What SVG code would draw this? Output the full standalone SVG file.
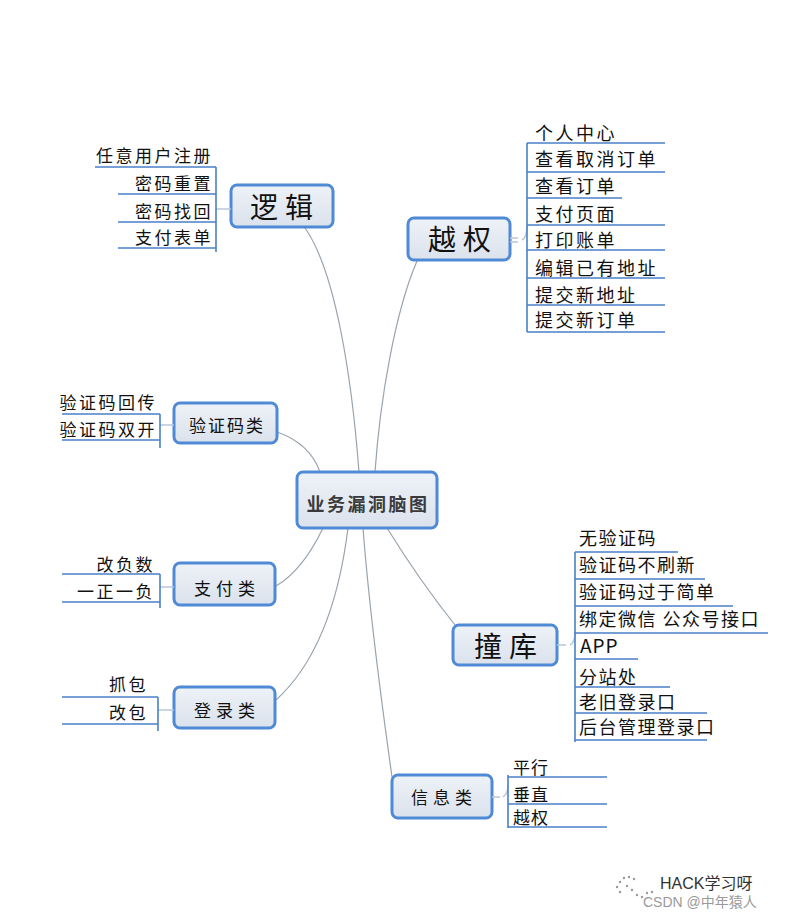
<svg xmlns="http://www.w3.org/2000/svg" width="796" height="920" viewBox="0 0 796 920">
<defs>
<linearGradient id="g" x1="0" y1="0" x2="0" y2="1">
<stop offset="0" stop-color="#eef2f8"/>
<stop offset="1" stop-color="#dbe2ec"/>
</linearGradient>
<style>
.box{fill:url(#g);stroke:#4f8ad6;stroke-width:3}
.t{font-family:"Noto Sans CJK SC","Noto Sans",sans-serif;fill:#111111}
.big{font-size:28px;letter-spacing:7px;text-anchor:middle}
.mid{font-size:17px;text-anchor:middle}
.leaf{font-size:17px;letter-spacing:2.5px}
.r{text-anchor:end}
.ul{stroke:#4a80c8;stroke-width:1.6;fill:none}
.con{stroke:#9aa3ad;stroke-width:1.2;fill:none}
.stub{stroke:#b8c6d8;stroke-width:1.5;fill:none}
</style>
</defs>
<rect width="796" height="920" fill="#ffffff"/>

<g id="connectors">
<path class="con" d="M305,228 C336,272 352,380 359,472"/>
<path class="con" d="M417,261 C395,312 380,400 375,472"/>
<path class="con" d="M277,432 C300,440 314,455 320,472"/>
<path class="con" d="M323,528 C310,555 295,575 276,586"/>
<path class="con" d="M348,528 C340,592 320,660 276,700"/>
<path class="con" d="M363,528 C370,620 384,720 392,777"/>
<path class="con" d="M387,528 C410,565 435,600 455,625"/>
</g>

<g id="center">
<rect class="box" x="297" y="472" width="140" height="56" rx="6"/>
<text class="t" x="368" y="511" style="font-size:18px;letter-spacing:2.5px;text-anchor:middle;fill:#3a3a3a;font-weight:bold">业务漏洞脑图</text>
</g>

<g id="luoji">
<rect class="box" x="231" y="185" width="102" height="42" rx="6"/>
<text class="t big" x="285" y="218">逻辑</text>
<path class="stub" d="M216,209 H231"/>
<path class="ul" d="M216,167 V252 M95,167 H216 M118,194 H216 M118,222 H216 M118,248 H216"/>
<text class="t leaf r" x="213" y="162">任意用户注册</text>
<text class="t leaf r" x="213" y="190">密码重置</text>
<text class="t leaf r" x="213" y="218">密码找回</text>
<text class="t leaf r" x="213" y="244">支付表单</text>
</g>

<g id="yuequan">
<rect class="box" x="408" y="218" width="102" height="42" rx="6"/>
<text class="t big" x="463" y="250">越权</text>
<path class="stub" d="M510,238 H518 M510,242 H518 M522,240 C526,238 527,232 527,226"/>
<path class="ul" d="M527,143 V332 M527,143 H665 M527,172 H665 M527,198 H622 M527,225 H665 M527,250 H665 M527,278 H665 M527,305 H665 M527,332 H665"/>
<text class="t leaf" x="535" y="140" style="font-size:18px">个人中心</text>
<text class="t leaf" x="535" y="166" style="font-size:18px">查看取消订单</text>
<text class="t leaf" x="535" y="193" style="font-size:18px">查看订单</text>
<text class="t leaf" x="535" y="221" style="font-size:18px">支付页面</text>
<text class="t leaf" x="535" y="247" style="font-size:18px">打印账单</text>
<text class="t leaf" x="535" y="275" style="font-size:18px">编辑已有地址</text>
<text class="t leaf" x="535" y="302" style="font-size:18px">提交新地址</text>
<text class="t leaf" x="535" y="327" style="font-size:18px">提交新订单</text>
</g>

<g id="yanzhengma">
<rect class="box" x="174" y="403" width="103" height="40" rx="6"/>
<text class="t mid" x="227" y="432" style="letter-spacing:2px">验证码类</text>
<path class="stub" d="M160,425 H174"/>
<path class="ul" d="M160,414 V448 M62,414 H160 M62,440 H160"/>
<text class="t leaf r" x="157" y="409">验证码回传</text>
<text class="t leaf r" x="157" y="436">验证码双开</text>
</g>

<g id="zhifu">
<rect class="box" x="174" y="563" width="101" height="42" rx="6"/>
<text class="t mid" x="227" y="595" style="letter-spacing:5px">支付类</text>
<path class="stub" d="M160,587 H174"/>
<path class="ul" d="M160,574 V608 M62,574 H160 M62,602 H160"/>
<text class="t leaf r" x="155" y="571">改负数</text>
<text class="t leaf r" x="155" y="598">一正一负</text>
</g>

<g id="denglu">
<rect class="box" x="174" y="687" width="101" height="41" rx="6"/>
<text class="t mid" x="227" y="717" style="letter-spacing:5px">登录类</text>
<path class="stub" d="M158,710 H174"/>
<path class="ul" d="M158,697 V731 M62,697 H158 M62,724 H158"/>
<text class="t leaf r" x="148" y="691">抓包</text>
<text class="t leaf r" x="148" y="719">改包</text>
</g>

<g id="zhuangku">
<rect class="box" x="453" y="625" width="104" height="40" rx="6"/>
<text class="t big" x="509" y="657">撞库</text>
<path class="stub" d="M557,645 H566 M570,645 C574,643 575,637 575,632"/>
<path class="ul" d="M575,552 V742 M575,552 H678 M575,579 H705 M575,606 H733 M575,633 H768 M575,659 H638 M575,687 H670 M575,713 H707 M575,740 H707"/>
<text class="t leaf" x="579" y="545" style="font-size:18px;letter-spacing:1.5px">无验证码</text>
<text class="t leaf" x="579" y="572" style="font-size:18px;letter-spacing:1.5px">验证码不刷新</text>
<text class="t leaf" x="579" y="599" style="font-size:18px;letter-spacing:1.5px">验证码过于简单</text>
<text class="t leaf" x="579" y="626" style="font-size:18px;letter-spacing:1.5px">绑定微信 公众号接口</text>
<text class="t leaf" x="580" y="653" style="font-size:19px;letter-spacing:1px">APP</text>
<text class="t leaf" x="579" y="684" style="font-size:18px;letter-spacing:1.5px">分站处</text>
<text class="t leaf" x="579" y="709" style="font-size:18px;letter-spacing:1.5px">老旧登录口</text>
<text class="t leaf" x="579" y="734" style="font-size:18px;letter-spacing:1.5px">后台管理登录口</text>
</g>

<g id="xinxi">
<rect class="box" x="392" y="775" width="100" height="43" rx="6"/>
<text class="t mid" x="444" y="804" style="letter-spacing:5px">信息类</text>
<path class="stub" d="M492,797 H500 M503,797 C506,795 508,790 508,785"/>
<path class="ul" d="M508,775 V828 M508,777 H607 M508,804 H607 M508,827 H607"/>
<text class="t leaf" x="513" y="774" style="font-size:17px;letter-spacing:1px">平行</text>
<text class="t leaf" x="513" y="801" style="font-size:17px;letter-spacing:1px">垂直</text>
<text class="t leaf" x="513" y="824" style="font-size:17px;letter-spacing:1px">越权</text>
</g>

<g id="watermark">
<g fill="#9a9a9a">
<circle cx="620" cy="882" r="1.2"/><circle cx="624" cy="878" r="1.2"/><circle cx="629" cy="877" r="1.2"/><circle cx="634" cy="879" r="1.2"/><circle cx="617" cy="887" r="1.2"/><circle cx="620" cy="892" r="1.2"/><circle cx="627" cy="886" r="1.2"/><circle cx="632" cy="890" r="1.2"/><circle cx="637" cy="895" r="1.2"/><circle cx="642" cy="897" r="1.2"/><circle cx="647" cy="893" r="1.2"/><circle cx="652" cy="892" r="1.2"/>
</g>
<text x="660" y="889" style="font-family:'Liberation Sans','Noto Sans CJK SC',sans-serif;font-size:16px;fill:#333">HACK学习呀</text>
<text x="643" y="907" style="font-family:'Liberation Sans','Noto Sans CJK SC',sans-serif;font-size:14px;fill:#9a9a9a">CSDN @中年猿人</text>
</g>
</svg>
